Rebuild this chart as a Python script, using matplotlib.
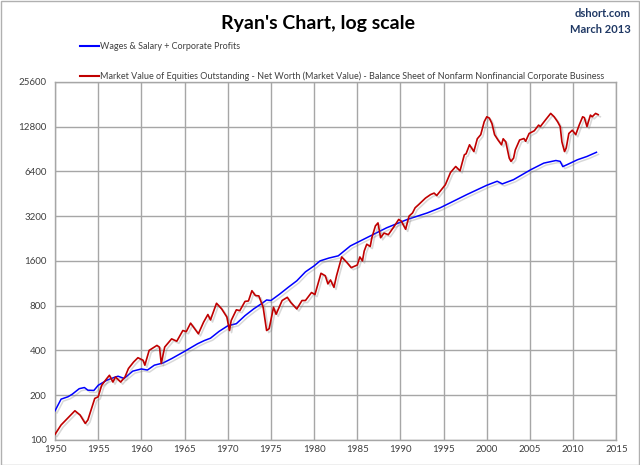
import matplotlib
matplotlib.use("Agg")
import matplotlib.pyplot as plt
import matplotlib.patheffects as pe
from matplotlib.patches import Rectangle
from matplotlib.ticker import FixedLocator, NullLocator

plt.rcParams["font.family"] = ["Lato", "DejaVu Sans"]

# Wages & Salary + Corporate Profits (blue)
wage_years = [1950.0, 1950.7, 1951.5, 1952.0, 1952.8, 1953.4, 1953.8, 1954.5, 1955.0,
              1956.0, 1957.0, 1957.3, 1958.0, 1959.0, 1960.0, 1960.7, 1961.5, 1962.5,
              1963.5, 1965.0, 1966.5, 1967.3, 1968.0, 1969.0, 1970.0, 1971.0, 1972.0,
              1973.0, 1974.0, 1974.5, 1975.0, 1976.0, 1977.0, 1978.0, 1979.0, 1980.0,
              1980.7, 1981.7, 1982.8, 1984.2, 1986.1, 1988.4, 1990.8, 1993.1, 1994.6,
              1997.7, 2000.0, 2001.2, 2001.8, 2003.1, 2005.1, 2006.6, 2008.0, 2008.5,
              2008.8, 2009.3, 2010.5, 2011.6, 2012.7]
wage_values = [157, 188, 195, 203, 221, 225, 216, 215, 233,
               252, 265, 268, 259, 290, 300, 295, 318, 329,
               352, 394, 443, 466, 483, 537, 585, 605, 685,
               760, 831, 873, 866, 955, 1062, 1175, 1350, 1480,
               1600, 1670, 1730, 2016, 2290, 2670, 3040, 3360, 3640,
               4470, 5160, 5490, 5270, 5630, 6570, 7270, 7570, 7470,
               6890, 7100, 7660, 8060, 8600]

# Market Value of Equities Outstanding - Net Worth (red)
equity_years = [1950.0, 1950.7, 1952.3, 1952.9, 1953.5, 1953.8, 1954.6, 1955.0, 1955.4,
                1956.0, 1956.3, 1956.7, 1957.0, 1957.6, 1958.1, 1958.5, 1959.1, 1959.6,
                1960.2, 1960.4, 1960.9, 1961.8, 1962.1, 1962.3, 1962.7, 1963.5, 1964.1,
                1964.8, 1965.2, 1965.7, 1966.6, 1967.2, 1967.7, 1968.0, 1968.7, 1969.3,
                1969.9, 1970.2, 1970.4, 1971.0, 1971.4, 1972.0, 1972.4, 1972.8, 1973.2,
                1973.6, 1974.1, 1974.5, 1974.8, 1975.3, 1975.6, 1976.3, 1976.9, 1977.3,
                1978.0, 1978.6, 1979.0, 1979.7, 1980.1, 1980.8, 1981.3, 1981.6, 1981.9,
                1982.3, 1982.6, 1983.2, 1983.8, 1984.3, 1985.0, 1985.3, 1985.6, 1985.8,
                1986.1, 1986.5, 1986.7, 1987.1, 1987.4, 1987.7, 1988.1, 1988.6, 1989.2,
                1989.8, 1990.1, 1990.6, 1991.0, 1991.4, 1991.7, 1992.1, 1992.9, 1993.5,
                1993.9, 1994.2, 1994.6, 1995.2, 1995.8, 1996.4, 1996.9, 1997.4, 1997.6,
                1998.0, 1998.5, 1998.9, 1999.3, 1999.7, 2000.0, 2000.3, 2000.6, 2000.9,
                2001.3, 2001.7, 2001.9, 2002.2, 2002.6, 2002.8, 2003.1, 2003.3, 2003.8,
                2004.3, 2004.5, 2004.9, 2005.5, 2006.0, 2006.2, 2006.8, 2007.4, 2007.8,
                2008.2, 2008.5, 2008.7, 2009.0, 2009.2, 2009.5, 2009.9, 2010.3, 2010.7,
                2011.1, 2011.3, 2011.6, 2012.0, 2012.2, 2012.6, 2012.9]
equity_values = [109, 126, 157, 147, 129, 136, 190, 195, 233,
                 259, 272, 245, 265, 245, 265, 302, 334, 357,
                 343, 318, 400, 432, 420, 326, 421, 478, 461,
                 544, 535, 610, 517, 619, 697, 641, 830, 760,
                 670, 544, 635, 750, 740, 854, 860, 1008, 935,
                 930, 780, 544, 560, 780, 700, 866, 910, 840,
                 760, 866, 866, 980, 950, 1320, 1270, 1120, 1190,
                 1062, 1270, 1700, 1560, 1440, 1500, 1700, 1600, 1860,
                 2070, 2000, 2300, 2750, 2880, 2290, 2460, 2400, 2690,
                 3040, 2960, 2610, 3200, 3360, 3640, 3820, 4230, 4470,
                 4570, 4400, 4700, 5200, 6290, 6900, 6450, 8270, 8400,
                 9660, 8700, 10600, 11300, 13800, 14900, 14600, 13400, 11300,
                 10400, 9660, 10600, 10100, 7850, 7470, 7850, 8920, 10400,
                 10640, 10200, 11500, 12000, 13100, 12800, 14200, 15700, 14900,
                 13800, 12800, 10100, 8700, 9200, 11500, 12100, 11300, 13100,
                 14900, 14700, 12800, 15300, 14900, 15700, 15400]

y_ticks = [100, 200, 400, 800, 1600, 3200, 6400, 12800, 25600]
x_ticks = list(range(1950, 2016, 5))

grid_color = "#a6a6a6"
text_color = "#404040"

fig = plt.figure(figsize=(6.4, 4.65), dpi=100)
ax = fig.add_axes([0.086, 0.054, 0.877, 0.77])

shadow = [pe.SimpleLineShadow(offset=(1.5, -1.5), shadow_color="#808080", alpha=0.3),
          pe.Normal()]
ax.plot(wage_years, wage_values, color="#0000ff", lw=1.1, path_effects=shadow, zorder=3)
ax.plot(equity_years, equity_values, color="#c00000", lw=1.2, path_effects=shadow, zorder=4)

ax.set_yscale("log")
ax.set_ylim(100, 25600)
ax.set_xlim(1950, 2015)
ax.yaxis.set_major_locator(FixedLocator(y_ticks))
ax.yaxis.set_minor_locator(NullLocator())
ax.set_yticklabels([str(v) for v in y_ticks])
ax.set_xticks(x_ticks)
ax.set_xticklabels([str(v) for v in x_ticks])
ax.tick_params(axis="both", length=0, labelsize=7, labelcolor=text_color, pad=6)
ax.tick_params(axis="x", pad=4)
ax.grid(True, color=grid_color, lw=1.0)
ax.set_axisbelow(True)
for sp in ax.spines.values():
    sp.set_color(grid_color)
    sp.set_linewidth(1.0)

# Title and source
fig.text(0.497, 0.950, "Ryan's Chart, log scale", ha="center", va="center",
         fontsize=14, fontweight="bold", color="black")
fig.text(0.985, 0.972, "dshort.com", ha="right", va="center", fontsize=8,
         fontweight="bold", color="#1f3864")
fig.text(0.985, 0.937, "March 2013", ha="right", va="center", fontsize=8,
         fontweight="bold", color="#1f3864")

# Legend drawn in figure coordinates
fig.add_artist(plt.Line2D([0.125, 0.155], [0.901, 0.901], color="#0000ff", lw=1.5))
fig.text(0.157, 0.901, "Wages & Salary + Corporate Profits", ha="left", va="center",
         fontsize=6.5, color=text_color)
fig.add_artist(plt.Line2D([0.125, 0.155], [0.837, 0.837], color="#c00000", lw=1.5))
fig.text(0.157, 0.837,
         "Market Value of Equities Outstanding - Net Worth (Market Value) - Balance Sheet of "
         "Nonfarm Nonfinancial Corporate Business",
         ha="left", va="center", fontsize=6.5, color=text_color)

# Outer frame
fig.add_artist(Rectangle((0.001, 0.001), 0.997, 0.997, transform=fig.transFigure,
                         fill=False, edgecolor="#b0b0b0", lw=1.0))

fig.savefig("out.png", dpi=100)
